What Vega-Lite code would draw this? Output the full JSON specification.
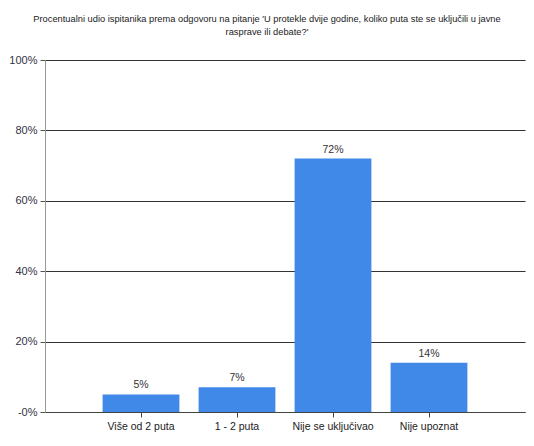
{
  "$schema": "https://vega.github.io/schema/vega-lite/v6.json",
  "width": 480,
  "height": 352,
  "autosize": {"type": "none"},
  "padding": {"left": 45, "top": 60, "right": 9, "bottom": 34},
  "background": "white",
  "title": {
    "text": ["Procentualni udio ispitanika prema odgovoru na pitanje 'U protekle dvije godine, koliko puta ste se uključili u javne", "rasprave ili debate?'"],
    "anchor": "middle",
    "frame": "group",
    "dx": -18,
    "offset": 17,
    "font": "Liberation Sans",
    "fontSize": 9.3,
    "fontWeight": "normal",
    "color": "#222222",
    "lineHeight": 13
  },
  "data": {
    "values": [
      {"odgovor": "Više od 2 puta", "udio": 0.05},
      {"odgovor": "1 - 2 puta", "udio": 0.07},
      {"odgovor": "Nije se uključivao", "udio": 0.72},
      {"odgovor": "Nije upoznat", "udio": 0.14}
    ]
  },
  "config": {
    "view": {"stroke": null},
    "font": "Liberation Sans"
  },
  "encoding": {
    "x": {
      "field": "odgovor",
      "type": "nominal",
      "sort": null,
      "scale": {"paddingInner": 0, "paddingOuter": 0.5},
      "axis": {
        "title": null,
        "labelAngle": 0,
        "labelFont": "Liberation Sans",
        "labelFontSize": 10.5,
        "labelColor": "#222222",
        "labelPadding": 4,
        "domainColor": "#444444",
        "tickColor": "#444444",
        "tickSize": 5,
        "grid": false
      }
    },
    "y": {
      "field": "udio",
      "type": "quantitative",
      "scale": {"domain": [0, 1]},
      "axis": {
        "title": null,
        "values": [0, 0.2, 0.4, 0.6, 0.8, 1],
        "labelExpr": "datum.value == 0 ? '-0%' : format(datum.value, '.0%')",
        "labelFont": "Liberation Sans",
        "labelFontSize": 11,
        "labelColor": "#333344",
        "labelPadding": 3,
        "domainColor": "#999999",
        "tickColor": "#555555",
        "tickSize": 5,
        "grid": true,
        "gridColor": "#333333",
        "gridOpacity": 1
      }
    }
  },
  "layer": [
    {
      "mark": {"type": "bar", "color": "#4189E8", "width": {"band": 0.8}}
    },
    {
      "mark": {"type": "text", "dy": -9, "font": "Liberation Sans", "fontSize": 10.5, "color": "#333333"},
      "encoding": {
        "text": {"field": "udio", "type": "quantitative", "format": ".0%"}
      }
    }
  ]
}
